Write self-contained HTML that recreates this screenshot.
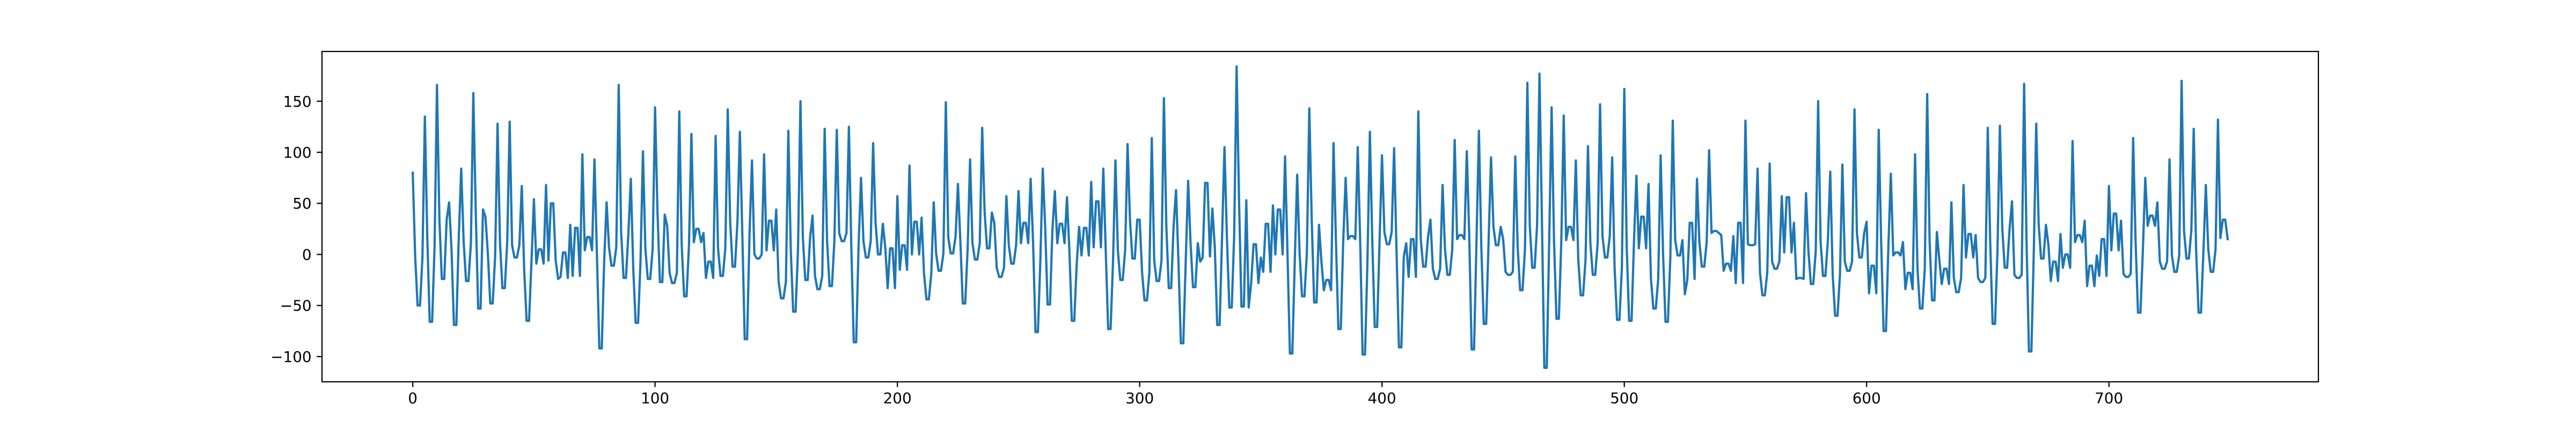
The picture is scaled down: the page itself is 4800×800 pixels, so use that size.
<!DOCTYPE html>
<html><head><meta charset="utf-8"><style>
html,body{margin:0;padding:0;background:#fff;}
svg{display:block;font-family:"DejaVu Sans","Liberation Sans",sans-serif;}
</style></head>
<body>
<svg id="chart" width="4800" height="800" viewBox="0 0 4800 800" xmlns="http://www.w3.org/2000/svg">
<rect x="0" y="0" width="4800" height="800" fill="#fff"/>
<g id="plot"></g>
</svg>
<script>
const seriesValues = [
80,-2,-50,-50,-3,135,17,-66,-66,7,166,34,-24,-24,34,51,5,-69,-69,17,84,13,-26,-26,11,158,42,-53,-53,44,37,1,-48,-48,-2,128,12,-33,-33,13,130,9,-3,-3,9,67,-16,-65,-65,-7,54,-9,5,5,-9,68,-6,50,50,-6,-24,-22,2,2,-23,29,-21,26,26,-21,98,4,17,17,4,93,1,-92,-92,-7,51,7,-11,-11,7,166,22,-23,-23,21,74,-14,-67,-67,-7,101,6,-24,-24,5,144,42,-27,-27,39,28,-18,-28,-28,-18,140,9,-41,-41,9,118,12,25,25,12,21,-23,-7,-7,-23,116,6,-21,-21,6,142,32,-12,-12,32,120,21,-83,-83,21,92,0,-4,-4,0,98,4,33,33,4,44,-27,-43,-43,
-27,121,5,-56,-56,5,150,17,-25,-25,17,38,-21,-34,-34,-21,123,13,-31,-31,13,122,21,13,13,21,125,7,-86,-86,9,75,13,-3,-3,13,109,31,0,0,30,7,-33,6,6,-33,57,-15,9,9,-15,87,0,32,32,0,36,-19,-44,-44,-19,51,1,-16,-16,1,149,17,1,1,17,69,13,-48,-48,5,93,11,-5,-5,11,124,42,6,6,41,31,-13,-22,-22,-13,57,9,-9,-9,9,62,11,31,31,11,74,13,-76,-76,-7,84,27,-49,-49,25,62,11,30,30,11,56,3,-65,-65,-10,27,-1,26,26,-1,71,7,52,52,7,84,3,-73,-73,-7,92,4,-25,-25,4,108,34,-4,-4,34,34,-18,-45,-45,-18,114,-6,-26,-26,-6,153,
28,-33,-33,28,63,-7,-87,-87,-7,72,11,-32,-32,11,-7,-3,70,70,-2,45,7,-69,-69,17,105,17,-52,-52,19,184,54,-51,-51,53,-52,-28,10,10,-28,-3,-17,30,30,-17,48,0,44,44,0,96,1,-97,-97,-7,78,1,-41,-41,1,143,34,-47,-47,29,-7,-35,-25,-25,-35,109,13,-73,-73,13,75,15,18,18,15,105,13,-98,-98,-7,120,13,-71,-71,13,97,22,10,10,22,104,3,-91,-91,-2,11,-22,15,15,-22,140,15,-12,-12,17,34,-14,-24,-24,-14,68,5,-20,-20,5,112,15,19,19,15,101,19,-93,-93,13,121,7,-68,-68,13,95,27,9,9,27,15,-17,-20,-20,-17,96,7,-35,-35,5,168,28,-13,-13,28,177,34,-111,-111,
13,144,13,-63,-63,13,136,14,27,27,14,92,-5,-40,-40,-5,106,11,-20,-20,11,147,18,-3,-3,18,95,-13,-64,-64,-13,162,7,-65,-65,13,77,6,37,37,6,69,-24,-53,-53,-24,97,1,-66,-66,-3,131,14,-1,-1,14,-39,-25,31,31,-24,74,12,-12,-12,12,102,21,23,23,21,19,-16,-9,-9,-16,18,-28,31,31,-28,131,10,9,9,10,84,-18,-40,-40,-18,89,-7,-14,-14,-7,57,2,56,56,2,31,-24,-23,-23,-24,60,3,-29,-29,3,150,13,-21,-21,13,81,-20,-60,-60,-20,88,-7,-16,-16,-7,142,21,-3,-3,21,32,-38,-11,-11,-38,122,13,-75,-75,9,79,-1,2,2,-1,12,-34,-18,-18,-34,98,-14,-53,-53,-14,157,
13,-45,-45,22,-5,-29,-14,-14,-29,51,-23,-37,-37,-23,68,-3,20,20,-3,19,-23,-27,-27,-23,124,13,-68,-68,3,126,25,-13,-13,25,52,-20,-23,-23,-20,167,13,-95,-95,3,128,30,-4,-4,29,10,-26,-7,-7,-26,20,-13,0,0,-13,111,12,19,19,12,33,-31,-11,-11,-31,-1,-21,15,15,-21,67,4,40,40,4,33,-19,-22,-22,-19,114,13,-57,-57,3,75,28,38,38,28,51,-7,-14,-14,-7,93,-1,-17,-17,-1,170,23,-4,-4,23,123,3,-57,-57,3,68,5,-17,-17,5,132,16,34,34,15
];
const xTickValues = [0,100,200,300,400,500,600,700];
const yTickValues = [-100,-50,0,50,100,150];
const xDomain = [-37.45, 786.45];
const yDomain = [-124.7, 198.7];

const L = 600, R = 4320, T = 96, B = 712;
const NS = "http://www.w3.org/2000/svg";
function xScale(v){ return L + (v - xDomain[0]) / (xDomain[1] - xDomain[0]) * (R - L); }
function yScale(v){ return B - (v - yDomain[0]) / (yDomain[1] - yDomain[0]) * (B - T); }
const plot = document.getElementById('plot');
function mk(tag, attrs){ const e = document.createElementNS(NS, tag); for (const k in attrs) e.setAttribute(k, attrs[k]); return e; }

const defs = mk('defs', {});
const cp = mk('clipPath', {id:'clip'});
cp.appendChild(mk('rect', {x:L, y:T, width:R-L, height:B-T}));
defs.appendChild(cp);
plot.appendChild(defs);

let d = '';
seriesValues.forEach((v, i) => { d += (i ? 'L' : 'M') + xScale(i).toFixed(2) + ',' + yScale(v).toFixed(2); });
const line = mk('path', {d:d, fill:'none', stroke:'#1f77b4', 'stroke-width':'4.2', 'stroke-linejoin':'round', 'stroke-linecap':'square', 'clip-path':'url(#clip)'});


plot.appendChild(line);

const frame = mk('rect', {x:L, y:T, width:R-L, height:B-T, fill:'none', stroke:'#000', 'stroke-width':'2.2'});


plot.appendChild(frame);

xTickValues.forEach(v => {
  const x = xScale(v);
  const t = mk('line', {x1:x, x2:x, y1:B, y2:B+9.7, stroke:'#000', 'stroke-width':'2.2'});
  
  
  plot.appendChild(t);
  const lb = mk('text', {x:x, y:B+40, 'text-anchor':'middle', 'font-size':'27.8', fill:'#000'});
  lb.textContent = String(v);
  
  
  plot.appendChild(lb);
});
yTickValues.forEach(v => {
  const y = yScale(v);
  const t = mk('line', {x1:L-9.7, x2:L, y1:y, y2:y, stroke:'#000', 'stroke-width':'2.2'});
  
  
  plot.appendChild(t);
  const lb = mk('text', {x:L-19.4, y:y+10, 'text-anchor':'end', 'font-size':'27.8', fill:'#000'});
  lb.textContent = v < 0 ? '\u2212' + Math.abs(v) : String(v);
  
  
  plot.appendChild(lb);
});
</script>
</body></html>
